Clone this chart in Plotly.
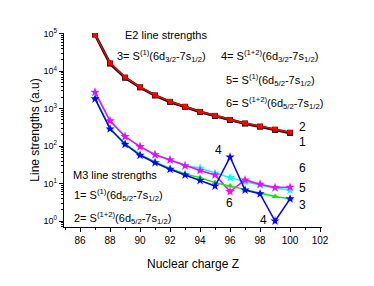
import plotly.graph_objects as go

# ---------------- data ----------------
Z = [87, 88, 89, 90, 91, 92, 93, 94, 95, 96, 97, 98, 99, 100]

e2_red = [95000, 16500, 6900, 3760, 2300, 1550, 1140, 835, 655, 510, 410, 340, 282, 235]
e2_black = [95000, 16000, 6700, 3700, 2250, 1520, 1120, 820, 640, 500, 400, 330, 272, 225]

s6_magenta = [2760, 472, 180, 97, 59, 42.8, 29.6, 22.4, 17.0, 6.1, 12.5, 9.6, 7.8, 8.0]
s5_cyan = [2700, 460, 178, 97, 60, 43.5, 30.5, 25.6, 18.8, 14.4, 11.2, 9.2, 7.5, 6.7]
s3_green = [1900, 300, 116, 60, 38, 25.5, 18.0, 14.4, 10.6, 8.6, 6.7, 5.5, 4.5, 3.9]
s4_blue = [1830, 288, 112, 57, 36, 24.0, 17.0, 12.1, 8.6, 51, 6.7, 5.3, 1.0, 3.9]

y_tickvals = [1, 10, 100, 1000, 10000, 100000]
y_ticktext = ["10<sup>0</sup>", "10<sup>1</sup>", "10<sup>2</sup>",
              "10<sup>3</sup>", "10<sup>4</sup>", "10<sup>5</sup>"]
x_tickvals = [86, 88, 90, 92, 94, 96, 98, 100, 102]

FONT = "Liberation Sans, Arial, sans-serif"

fig = go.Figure()

fig.add_trace(go.Scatter(x=Z, y=e2_black, mode="lines+markers",
                         line=dict(color="black", width=2.8),
                         marker=dict(symbol="square", size=6, color="black"),
                         showlegend=False))
fig.add_trace(go.Scatter(x=Z, y=e2_red, mode="lines+markers",
                         line=dict(color="#ff0000", width=1.5),
                         marker=dict(symbol="square", size=5, color="#ff0000"),
                         showlegend=False))
fig.add_trace(go.Scatter(x=Z, y=s5_cyan, mode="lines+markers",
                         line=dict(color="#00ffff", width=1.5),
                         marker=dict(symbol="star", size=7, color="#00ffff"),
                         showlegend=False))
fig.add_trace(go.Scatter(x=Z, y=s6_magenta, mode="lines+markers",
                         line=dict(color="#ff00ff", width=1.5),
                         marker=dict(symbol="star", size=7, color="#ff00ff"),
                         showlegend=False))
fig.add_trace(go.Scatter(x=Z, y=s3_green, mode="lines+markers",
                         line=dict(color="#00ee00", width=1.5),
                         marker=dict(symbol="triangle-up", size=6, color="#00ee00"),
                         showlegend=False))
fig.add_trace(go.Scatter(x=Z, y=s4_blue, mode="lines+markers",
                         line=dict(color="#0000ff", width=1.5),
                         marker=dict(symbol="star", size=7, color="#0000ff"),
                         showlegend=False))

# plot area in pixels: x 64..322, y 33..227
L, R, T, B = 64, 322, 33, 227


def px(x):
    return (x - L) / (R - L)


def py(y):
    return 1 - (y - T) / (B - T)


def note(text, x, y, size=11, anchor="left"):
    fig.add_annotation(text=text, x=px(x), y=py(y), xref="paper", yref="paper",
                       xanchor=anchor, yanchor="middle", showarrow=False,
                       borderpad=0,
                       font=dict(family=FONT, size=size, color="black"))


note("E2 line strengths", 124, 35)
note("3= S<sup>(1)</sup>(6d<sub>3/2</sub>-7s<sub>1/2</sub>)", 116, 56)
note("4= S<sup>(1+2)</sup>(6d<sub>3/2</sub>-7s<sub>1/2</sub>)", 220, 56)
note("5= S<sup>(1)</sup>(6d<sub>5/2</sub>-7s<sub>1/2</sub>)", 225, 80)
note("6= S<sup>(1+2)</sup>(6d<sub>5/2</sub>-7s<sub>1/2</sub>)", 225, 103)
note("M3 line strengths", 72, 175)
note("1= S<sup>(1)</sup>(6d<sub>5/2</sub>-7s<sub>1/2</sub>)", 73, 195)
note("2= S<sup>(1+2)</sup>(6d<sub>5/2</sub>-7s<sub>1/2</sub>)", 73, 218)

# curve labels
note("2", 298, 127, size=12)
note("1", 298, 142, size=12)
note("6", 298, 168, size=12)
note("5", 298, 188, size=12)
note("3", 298, 205, size=12)
note("4", 218, 150, size=12, anchor="center")
note("6", 229, 203, size=12, anchor="center")
note("4", 263, 220, size=12, anchor="center")

fig.update_layout(
    width=374, height=286,
    margin=dict(l=L, r=374 - R, t=T, b=286 - B, autoexpand=False),
    paper_bgcolor="white", plot_bgcolor="white",
    font=dict(family=FONT, color="black"),
    showlegend=False,
)
fig.update_xaxes(
    automargin=False,
    range=[84.93, 102.13], tickmode="array", tickvals=x_tickvals,
    ticks="outside", ticklen=4, tickwidth=1, tickcolor="black",
    showline=True, linecolor="black", linewidth=1.2, showgrid=False, zeroline=False,
    tickfont=dict(size=10, family=FONT),
    minor=dict(ticks="outside", ticklen=2, dtick=1, tick0=86, tickcolor="black", showgrid=False),
    title=dict(text="Nuclear charge Z", font=dict(size=12, family=FONT), standoff=14),
)
fig.update_yaxes(
    automargin=False,
    type="log", range=[-0.16, 5.02], tickmode="array",
    tickvals=y_tickvals, ticktext=y_ticktext,
    ticks="outside", ticklen=4, tickwidth=1, tickcolor="black",
    showline=True, linecolor="black", linewidth=1.2, showgrid=False, zeroline=False,
    tickfont=dict(size=9, family=FONT),
    minor=dict(ticks="outside", ticklen=2, dtick="D1", tickcolor="black", showgrid=False),
    title=dict(text="Line strengths (a.u)", font=dict(size=12, family=FONT), standoff=1),
)

fig.write_html("out.html", config={"displayModeBar": False},
               post_script="document.body.style.margin='0px';")
